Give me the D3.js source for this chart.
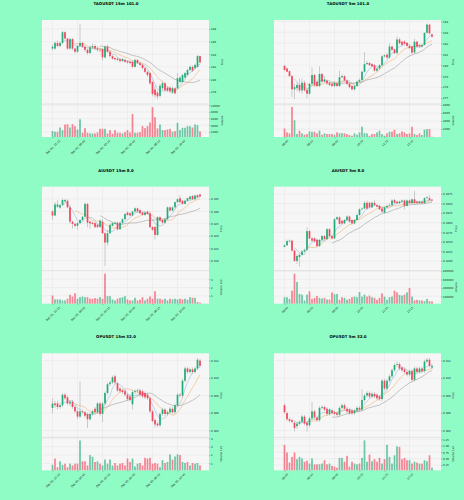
<!DOCTYPE html>
<html>
<head>
<meta charset="utf-8">
<script src="https://cdn.jsdelivr.net/npm/d3@7"></script>
<style>
  html, body { margin: 0; padding: 0; background: #8ffcc6; }
  svg { display: block; font-family: "DejaVu Sans", sans-serif; }
</style>
</head>
<body>
<svg id="fig" width="464" height="500"></svg>
<script>
// candle index of each x tick, and the labels
var tickIndex = [0, 10, 20, 30, 40, 50];
var ticks15m = ["Dec 01, 22:15", "Dec 02, 00:45", "Dec 02, 03:15", "Dec 02, 05:45", "Dec 02, 08:15", "Dec 02, 10:45"];
var ticks5m = ["08:05", "08:55", "09:45", "10:35", "11:25", "12:15"];

var titles = ["TAOUSDT 15m 101.0", "TAOUSDT 5m 101.0", "AIUSDT 15m 8.0", "AIUSDT 5m 8.0", "OPUSDT 15m 32.0", "OPUSDT 5m 32.0"];

// [open, high, low, close]
var tao15m = [
  [284.9,285.6,284.6,285.2],[284.9,286.0,284.7,285.8],[285.8,286.2,285.1,285.3],[285.3,286.0,285.1,285.8],
  [285.8,287.7,285.6,287.5],[287.5,287.6,286.3,286.5],[286.5,286.6,284.7,284.9],[284.9,286.6,284.7,286.4],
  [286.4,286.6,284.6,284.9],[284.9,285.0,284.1,284.4],[284.4,285.5,284.2,285.3],[285.3,288.8,285.1,285.8],
  [285.8,286.0,285.0,285.2],[285.2,285.4,284.4,284.7],[284.7,284.9,283.9,284.2],[284.2,285.4,284.0,285.1],
  [285.1,285.7,284.8,285.3],[285.3,285.6,284.7,284.9],[284.9,285.3,284.4,284.7],[284.7,284.9,284.3,284.6],
  [284.8,285.0,283.0,283.5],[283.5,285.4,283.3,285.2],[285.2,285.5,284.2,284.4],[284.4,284.6,283.5,283.7],
  [283.7,283.9,283.1,283.3],[283.4,283.6,283.0,283.2],[283.3,283.5,282.9,283.1],[283.2,283.4,282.7,282.9],
  [282.9,283.4,282.8,283.2],[283.1,283.3,282.6,282.8],[282.9,283.0,282.5,282.7],[282.8,283.0,282.4,282.6],
  [282.8,283.0,281.8,282.0],[282.0,283.3,281.9,283.1],[283.1,283.2,282.4,282.6],[282.6,282.8,282.1,282.3],
  [282.3,282.5,281.6,281.8],[281.8,282.0,281.0,281.2],[281.2,281.4,280.4,280.7],[281.0,281.2,279.1,279.4],
  [279.6,279.8,277.3,277.7],[278.4,279.0,277.0,277.5],[277.9,278.2,276.8,277.3],[277.4,279.3,277.1,279.0],
  [278.6,279.8,278.3,279.4],[279.4,279.6,278.0,278.3],[278.7,278.9,278.0,278.2],[278.7,278.9,277.8,278.1],
  [277.9,278.9,277.7,278.6],[278.6,278.8,277.6,277.8],[278.6,281.0,278.4,280.2],[279.6,280.5,279.4,280.3],
  [279.6,280.9,279.4,280.7],[280.3,281.2,280.1,281.0],[280.7,281.7,280.5,281.5],[281.5,282.2,281.3,282.0],
  [282.0,282.2,281.2,281.4],[281.8,282.5,281.6,282.3],[282.0,283.9,281.8,283.7],[283.7,283.8,282.5,282.7]
];
var tao15mVol = [2200,2000,2000,3300,2500,4200,4300,3300,4300,3700,2700,5800,1700,3100,1700,1500,1500,1500,1800,2900,
  2900,2900,1500,2500,1400,2500,1700,1700,1500,1900,2500,1800,7400,1700,1700,1900,3700,3100,3700,4800,
  9450,6400,3000,4200,2500,2500,2700,2900,2000,2200,4700,2500,3200,3200,3700,3700,3300,4200,4000,2100];

var tao5m = [
  [279.95,280.0,279.5,279.55],[279.7,279.8,279.35,279.4],[279.45,279.5,278.95,279.0],[279.0,279.1,277.1,277.8],
  [277.8,278.3,276.9,278.0],[277.9,278.4,277.6,278.2],[278.2,278.8,277.5,277.7],[277.7,278.8,277.4,278.4],
  [278.4,278.6,277.6,277.7],[277.75,277.9,277.0,277.4],[277.4,278.4,277.3,278.3],[278.3,279.8,278.2,279.1],
  [279.1,279.2,278.1,278.2],[278.5,278.7,278.0,278.1],[278.1,279.9,278.0,279.2],[279.2,279.3,278.4,278.5],
  [278.5,279.0,278.4,278.7],[278.6,278.7,278.2,278.35],[278.4,278.5,278.1,278.2],[278.3,278.4,278.0,278.1],
  [278.1,278.5,278.0,278.4],[278.35,278.5,278.0,278.1],[278.1,279.5,278.0,278.9],[278.9,279.2,278.8,279.0],
  [279.0,279.1,278.5,278.6],[278.6,278.7,278.2,278.3],[278.3,278.4,277.9,278.0],[278.1,278.2,277.7,277.8],
  [277.8,278.2,277.7,278.1],[278.1,278.6,278.0,278.5],[278.5,278.8,278.4,278.65],[278.65,279.5,278.6,279.4],
  [279.4,281.2,279.3,280.1],[280.1,280.4,280.0,280.2],[280.2,280.3,279.9,280.0],[280.1,280.2,279.8,279.9],
  [280.0,280.1,279.4,279.5],[279.5,279.8,279.4,279.7],[279.7,280.1,279.6,280.0],[280.0,280.9,279.9,280.8],
  [280.8,281.0,280.7,280.9],[280.95,281.1,280.6,280.7],[280.7,282.0,280.6,281.7],[281.7,281.8,281.3,281.4],
  [281.45,281.5,281.0,281.1],[281.1,282.6,281.0,282.35],[282.35,282.5,281.9,282.0],[282.15,282.2,281.8,281.85],
  [282.15,282.3,281.9,281.95],[282.05,282.1,281.7,281.75],[281.75,281.9,281.5,281.55],[281.7,281.8,281.0,281.15],
  [281.15,282.4,281.1,282.15],[282.15,282.2,281.6,281.7],[281.85,281.9,281.6,281.7],[281.7,281.9,281.6,281.85],
  [281.85,283.0,281.8,282.95],[282.95,283.8,282.9,283.7],[283.7,283.75,282.8,282.9],[282.8,282.9,282.5,282.6]
];
var tao5mVol = [2150,1180,930,7500,4200,770,1600,930,600,770,1420,1340,1340,930,1600,600,930,770,770,770,
  600,1180,930,1000,930,770,520,350,930,600,1180,2580,1000,930,350,770,770,1180,1600,770,
  350,930,1340,1340,1840,770,930,1420,1180,770,930,2580,770,520,930,520,1840,2000,2000,100];

var ai15m = [
  [0.3299,0.3305,0.3265,0.3283],[0.3283,0.3338,0.3280,0.3328],[0.3318,0.3345,0.3315,0.3328],[0.3315,0.3330,0.3310,0.3325],
  [0.3326,0.3352,0.3322,0.3346],[0.3340,0.3350,0.3336,0.3346],[0.3343,0.3348,0.3312,0.3316],[0.3316,0.3325,0.3250,0.3258],
  [0.3258,0.3262,0.3230,0.3249],[0.3249,0.3255,0.3235,0.3241],[0.3241,0.3256,0.3225,0.3252],[0.3252,0.3268,0.3248,0.3265],
  [0.3265,0.3280,0.3260,0.3278],[0.3278,0.3335,0.3275,0.3330],[0.3330,0.3334,0.3235,0.3254],[0.3258,0.3262,0.3230,0.3251],
  [0.3254,0.3258,0.3245,0.3249],[0.3252,0.3256,0.3232,0.3236],[0.3245,0.3250,0.3232,0.3236],[0.3236,0.3268,0.3234,0.3262],
  [0.3258,0.3270,0.3208,0.3211],[0.3211,0.3215,0.3078,0.3173],[0.3173,0.3225,0.3160,0.3211],[0.3211,0.3250,0.3208,0.3245],
  [0.3241,0.3256,0.3238,0.3252],[0.3249,0.3258,0.3245,0.3254],[0.3254,0.3258,0.3222,0.3227],[0.3227,0.3258,0.3224,0.3254],
  [0.3254,0.3272,0.3250,0.3268],[0.3268,0.3295,0.3265,0.3289],[0.3295,0.3299,0.3282,0.3285],[0.3292,0.3296,0.3280,0.3283],
  [0.3283,0.3302,0.3280,0.3299],[0.3299,0.3316,0.3296,0.3312],[0.3312,0.3315,0.3296,0.3299],[0.3305,0.3308,0.3289,0.3292],
  [0.3295,0.3299,0.3282,0.3285],[0.3285,0.3299,0.3282,0.3295],[0.3299,0.3302,0.3286,0.3289],[0.3292,0.3300,0.3232,0.3236],
  [0.3236,0.3240,0.3220,0.3225],[0.3236,0.3240,0.3185,0.3204],[0.3204,0.3280,0.3200,0.3276],[0.3276,0.3280,0.3258,0.3262],
  [0.3265,0.3268,0.3250,0.3254],[0.3254,0.3272,0.3250,0.3268],[0.3268,0.3320,0.3265,0.3316],[0.3316,0.3320,0.3300,0.3303],
  [0.3303,0.3320,0.3300,0.3316],[0.3316,0.3340,0.3312,0.3337],[0.3337,0.3352,0.3334,0.3349],[0.3353,0.3365,0.3334,0.3337],
  [0.3343,0.3346,0.3327,0.3330],[0.3330,0.3346,0.3327,0.3343],[0.3343,0.3356,0.3340,0.3353],[0.3349,0.3363,0.3346,0.3360],
  [0.3362,0.3366,0.3346,0.3349],[0.3349,0.3368,0.3346,0.3364],[0.3365,0.3370,0.3354,0.3357],[0.3368,0.3372,0.3358,0.3360]
];
// millions
var ai15mVol = [1.04,0.57,0.57,0.57,0.45,0.45,0.65,1.12,0.92,1.31,0.65,0.84,0.92,0.84,0.84,0.65,0.65,0.73,0.65,0.84,
  0.65,3.67,0.96,0.96,0.57,0.45,0.65,0.76,0.84,0.96,0.57,0.45,0.45,0.76,0.45,0.53,0.84,0.45,0.65,0.92,
  0.65,1.55,0.65,0.65,0.53,0.65,0.45,0.65,0.57,0.65,0.57,0.65,0.57,0.65,0.53,0.84,0.76,0.76,0.25,0.18];

var ai5m = [
  [0.3237,0.3243,0.3235,0.3241],[0.3241,0.3256,0.3239,0.3252],[0.3251,0.3256,0.3248,0.3253],[0.3253,0.3256,0.3225,0.3227],
  [0.3227,0.3230,0.3198,0.3200],[0.3200,0.3218,0.3192,0.3213],[0.3210,0.3220,0.3185,0.3216],[0.3216,0.3228,0.3214,0.3225],
  [0.3225,0.3232,0.3222,0.3229],[0.3229,0.3288,0.3226,0.3278],[0.3278,0.3281,0.3257,0.3259],[0.3259,0.3262,0.3250,0.3253],
  [0.3259,0.3262,0.3248,0.3251],[0.3255,0.3258,0.3236,0.3239],[0.3239,0.3258,0.3236,0.3255],[0.3255,0.3268,0.3253,0.3265],
  [0.3265,0.3268,0.3254,0.3257],[0.3257,0.3286,0.3255,0.3283],[0.3283,0.3286,0.3262,0.3265],[0.3265,0.3268,0.3256,0.3259],
  [0.3259,0.3312,0.3257,0.3309],[0.3309,0.3317,0.3306,0.3314],[0.3314,0.3317,0.3294,0.3297],[0.3305,0.3308,0.3295,0.3298],
  [0.3298,0.3310,0.3296,0.3307],[0.3307,0.3319,0.3305,0.3316],[0.3316,0.3319,0.3300,0.3303],[0.3307,0.3310,0.3295,0.3298],
  [0.3298,0.3310,0.3296,0.3307],[0.3307,0.3323,0.3305,0.3320],[0.3320,0.3338,0.3318,0.3335],[0.3335,0.3340,0.3332,0.3337],
  [0.3337,0.3356,0.3335,0.3352],[0.3352,0.3358,0.3334,0.3337],[0.3352,0.3355,0.3337,0.3340],[0.3340,0.3355,0.3338,0.3352],
  [0.3352,0.3360,0.3344,0.3346],[0.3346,0.3349,0.3340,0.3342],[0.3344,0.3347,0.3333,0.3335],[0.3337,0.3340,0.3326,0.3329],
  [0.3326,0.3343,0.3324,0.3340],[0.3340,0.3347,0.3338,0.3344],[0.3344,0.3350,0.3342,0.3346],[0.3346,0.3362,0.3344,0.3358],
  [0.3359,0.3363,0.3350,0.3352],[0.3355,0.3358,0.3349,0.3351],[0.3351,0.3358,0.3349,0.3355],[0.3355,0.3361,0.3353,0.3358],
  [0.3358,0.3361,0.3335,0.3344],[0.3344,0.3361,0.3342,0.3358],[0.3358,0.3361,0.3349,0.3351],[0.3351,0.3364,0.3349,0.3361],
  [0.3361,0.3383,0.3349,0.3351],[0.3355,0.3358,0.3349,0.3351],[0.3351,0.3358,0.3349,0.3355],[0.3355,0.3358,0.3349,0.3351],
  [0.3351,0.3367,0.3349,0.3364],[0.3364,0.3370,0.3362,0.3366],[0.3364,0.3372,0.3357,0.3359],[0.3360,0.3362,0.3356,0.3358]
];
var ai5mVol = [177000,177000,138000,332000,737000,542000,254000,239000,99000,239000,
  317000,138000,161000,208000,161000,146000,161000,122000,122000,293000,
  247000,254000,114000,177000,161000,114000,138000,177000,192000,177000,
  301000,192000,239000,192000,215000,177000,161000,114000,161000,270000,
  192000,114000,177000,192000,332000,293000,231000,215000,239000,293000,
  395000,192000,99000,114000,99000,99000,83000,138000,83000,75000];

var op15m = [
  [0.3066,0.3077,0.3060,0.3071],[0.3071,0.3074,0.3066,0.3069],[0.3071,0.3074,0.3064,0.3067],[0.3067,0.3072,0.3065,0.3069],
  [0.3069,0.3083,0.3067,0.3081],[0.3081,0.3083,0.3075,0.3077],[0.3078,0.3080,0.3069,0.3071],[0.3071,0.3075,0.3068,0.3073],
  [0.3073,0.3075,0.3065,0.3067],[0.3067,0.3069,0.3060,0.3062],[0.3062,0.3064,0.3053,0.3056],[0.3056,0.3096,0.3054,0.3062],
  [0.3062,0.3064,0.3059,0.3061],[0.3061,0.3063,0.3055,0.3057],[0.3059,0.3061,0.3043,0.3053],[0.3053,0.3061,0.3051,0.3059],
  [0.3059,0.3064,0.3057,0.3062],[0.3065,0.3067,0.3059,0.3061],[0.3061,0.3073,0.3059,0.3071],[0.3071,0.3073,0.3057,0.3059],
  [0.3059,0.3073,0.3050,0.3071],[0.3071,0.3085,0.3069,0.3083],[0.3083,0.3095,0.3081,0.3093],[0.3093,0.3097,0.3091,0.3095],
  [0.3095,0.3103,0.3093,0.3101],[0.3102,0.3104,0.3093,0.3095],[0.3094,0.3096,0.3084,0.3086],[0.3088,0.3090,0.3083,0.3085],
  [0.3086,0.3088,0.3082,0.3084],[0.3085,0.3087,0.3079,0.3081],[0.3081,0.3083,0.3074,0.3076],[0.3079,0.3081,0.3073,0.3075],
  [0.3070,0.3086,0.3064,0.3084],[0.3084,0.3087,0.3082,0.3085],[0.3085,0.3088,0.3083,0.3086],[0.3086,0.3088,0.3079,0.3081],
  [0.3085,0.3087,0.3077,0.3079],[0.3083,0.3085,0.3076,0.3078],[0.3081,0.3083,0.3075,0.3077],[0.3077,0.3079,0.3060,0.3062],
  [0.3062,0.3064,0.3049,0.3051],[0.3052,0.3054,0.3043,0.3047],[0.3048,0.3050,0.3044,0.3046],[0.3046,0.3061,0.3044,0.3059],
  [0.3059,0.3066,0.3057,0.3064],[0.3064,0.3066,0.3057,0.3059],[0.3059,0.3063,0.3057,0.3061],[0.3061,0.3067,0.3059,0.3065],
  [0.3065,0.3067,0.3059,0.3061],[0.3061,0.3071,0.3059,0.3069],[0.3069,0.3083,0.3067,0.3081],[0.3081,0.3083,0.3078,0.3080],
  [0.3080,0.3099,0.3078,0.3097],[0.3097,0.3113,0.3095,0.3111],[0.3111,0.3113,0.3105,0.3107],[0.3107,0.3112,0.3105,0.3110],
  [0.3110,0.3112,0.3105,0.3107],[0.3107,0.3113,0.3105,0.3111],[0.3111,0.3123,0.3109,0.3121],[0.3120,0.3122,0.3112,0.3114]
];
// units of 1e5
var op15mVol = [0.83,1.58,0.54,1.25,0.83,0.96,0.54,0.96,0.75,0.96,0.96,3.75,1.25,1.25,0.75,2.0,1.79,1.17,1.25,0.96,
  0.75,1.46,0.96,1.46,0.75,1.04,0.75,0.96,1.04,0.75,1.58,1.17,1.58,0.63,0.96,1.04,0.75,1.67,1.58,1.67,
  0.96,1.04,0.96,0.54,1.38,1.04,1.17,2.08,1.46,1.83,2.08,2.0,1.17,1.04,1.17,0.75,1.04,0.96,1.04,0.75];

var op5m = [
  [0.3069,0.3071,0.3059,0.3061],[0.3060,0.3062,0.3051,0.3053],[0.3053,0.3055,0.3049,0.3051],[0.3052,0.3054,0.3048,0.3050],
  [0.3049,0.3051,0.3039,0.3043],[0.3045,0.3050,0.3042,0.3048],[0.3048,0.3052,0.3046,0.3050],[0.3050,0.3058,0.3048,0.3056],
  [0.3056,0.3058,0.3046,0.3048],[0.3049,0.3051,0.3039,0.3046],[0.3046,0.3056,0.3044,0.3054],[0.3054,0.3073,0.3052,0.3062],
  [0.3062,0.3064,0.3053,0.3055],[0.3055,0.3057,0.3050,0.3052],[0.3052,0.3068,0.3050,0.3066],[0.3066,0.3069,0.3064,0.3067],
  [0.3067,0.3069,0.3062,0.3064],[0.3065,0.3067,0.3057,0.3059],[0.3059,0.3066,0.3057,0.3064],[0.3063,0.3065,0.3058,0.3060],
  [0.3061,0.3063,0.3057,0.3059],[0.3060,0.3062,0.3056,0.3058],[0.3058,0.3068,0.3056,0.3066],[0.3066,0.3071,0.3064,0.3069],
  [0.3069,0.3071,0.3063,0.3065],[0.3065,0.3067,0.3060,0.3062],[0.3064,0.3066,0.3058,0.3060],[0.3063,0.3065,0.3058,0.3060],
  [0.3060,0.3065,0.3058,0.3063],[0.3063,0.3068,0.3061,0.3066],[0.3066,0.3068,0.3062,0.3064],[0.3064,0.3087,0.3062,0.3075],
  [0.3075,0.3082,0.3073,0.3080],[0.3080,0.3085,0.3078,0.3083],[0.3083,0.3085,0.3077,0.3079],[0.3079,0.3084,0.3077,0.3082],
  [0.3082,0.3084,0.3077,0.3079],[0.3081,0.3083,0.3075,0.3077],[0.3079,0.3081,0.3074,0.3076],[0.3076,0.3099,0.3074,0.3097],
  [0.3097,0.3099,0.3086,0.3088],[0.3088,0.3099,0.3086,0.3097],[0.3097,0.3104,0.3095,0.3102],[0.3102,0.3111,0.3100,0.3109],
  [0.3109,0.3117,0.3107,0.3115],[0.3115,0.3119,0.3113,0.3116],[0.3116,0.3118,0.3109,0.3111],[0.3112,0.3114,0.3107,0.3109],
  [0.3110,0.3112,0.3105,0.3107],[0.3107,0.3109,0.3102,0.3104],[0.3104,0.3110,0.3102,0.3108],[0.3108,0.3110,0.3096,0.3098],
  [0.3098,0.3113,0.3096,0.3111],[0.3111,0.3113,0.3105,0.3107],[0.3107,0.3113,0.3105,0.3111],[0.3111,0.3113,0.3106,0.3108],
  [0.3108,0.3121,0.3106,0.3119],[0.3119,0.3123,0.3117,0.3121],[0.3121,0.3123,0.3112,0.3114],[0.3112,0.3116,0.3110,0.3114]
];
// millions
var op5mVol = [1.04,0.74,0.35,0.57,0.74,0.48,0.57,0.51,0.38,0.42,0.31,0.51,0.28,0.28,0.28,0.31,0.44,0.28,0.31,0.22,
  0.19,0.15,0.53,0.53,0.38,0.61,0.19,0.38,0.31,0.28,0.31,0.53,1.21,0.38,0.66,0.40,0.48,0.38,0.53,0.31,
  0.48,1.04,0.57,0.31,0.63,0.98,0.96,0.48,0.53,0.44,0.44,0.31,0.38,0.35,0.31,0.31,0.44,0.40,0.63,0.15];

// axis limits and ticks
var priceLimits = [[276.10, 289.43], [276.46, 284.12], [0.30592, 0.33999], [0.31746, 0.33941], [0.30323, 0.31283], [0.30323, 0.31283]];
var priceTicks = [
  [278, 280, 282, 284, 286, 288],
  [277, 278, 279, 280, 281, 282, 283, 284],
  [0.310, 0.315, 0.320, 0.325, 0.330, 0.335],
  [0.3200, 0.3225, 0.3250, 0.3275, 0.3300, 0.3325, 0.3350, 0.3375],
  [0.304, 0.306, 0.308, 0.310, 0.312],
  [0.304, 0.306, 0.308, 0.310, 0.312]
];
var volTicks = [
  [2000, 4000, 6000, 8000, 10000],
  [2000, 4000, 6000, 8000],
  [1, 2, 3],
  [200000, 400000, 600000, 800000],
  [1, 2, 3, 4],
  [0.25, 0.50, 0.75, 1.00, 1.25]
];
var volLabels = ["Volume", "Volume", "Volume  1e6", "Volume", "Volume  1e5", "Volume  1e6"];
var maPeriods = [5, 10, 20];

var charts = [
  { ohlc: tao15m, vol: tao15mVol, xlab: ticks15m, pfmt: d3.format("d"), vfmt: d3.format("d") },
  { ohlc: tao5m, vol: tao5mVol, xlab: ticks5m, pfmt: d3.format("d"), vfmt: d3.format("d") },
  { ohlc: ai15m, vol: ai15mVol, xlab: ticks15m, pfmt: d3.format(".3f"), vfmt: d3.format("d") },
  { ohlc: ai5m, vol: ai5mVol, xlab: ticks5m, pfmt: d3.format(".4f"), vfmt: d3.format("d") },
  { ohlc: op15m, vol: op15mVol, xlab: ticks15m, pfmt: d3.format(".3f"), vfmt: d3.format("d") },
  { ohlc: op5m, vol: op5mVol, xlab: ticks5m, pfmt: d3.format(".3f"), vfmt: d3.format(".2f") }
];

var W = 232, H = 500 / 3;
var L = 42, R = 209, T = 20, M = 104, B = 137;
var upColor = "#22ad78", downColor = "#f4475c";
var maColors = ["#88aed6", "#f3a456", "#8e8e8e"];
var fs = 2.7;

var svg = d3.select("#fig");
svg.append("rect").attr("width", 464).attr("height", 500).attr("fill", "#8ffcc6");

charts.forEach(function(ch, k) {
  var g = svg.append("g")
      .attr("transform", "translate(" + (k % 2) * W + "," + Math.floor(k / 2) * H + ")");
  var n = ch.ohlc.length;
  var x = d3.scaleLinear().domain([-4.2, n + 2.6]).range([L, R]);
  var y = d3.scaleLinear().domain(priceLimits[k]).range([M, T]);
  var yv = d3.scaleLinear().domain([0.3 * d3.min(ch.vol), 1.1 * d3.max(ch.vol)]).range([B, M]);
  var bw = 1.7;
  var col = function(d) { return d[3] >= d[0] ? upColor : downColor; };

  g.append("text")
      .attr("x", W / 2).attr("y", 4.9)
      .attr("text-anchor", "middle")
      .attr("font-size", 3.9).attr("font-weight", "bold")
      .text(titles[k]);

  g.append("rect").attr("x", L).attr("y", T).attr("width", R - L).attr("height", B - T)
      .attr("fill", "#f6f6f6");

  // grid
  var grid = g.append("g").attr("stroke", "#dedede").attr("stroke-width", 0.35);
  grid.selectAll(".gx").data(tickIndex).enter().append("line")
      .attr("x1", function(d) { return x(d); }).attr("x2", function(d) { return x(d); })
      .attr("y1", T).attr("y2", B);
  grid.selectAll(".gy").data(priceTicks[k]).enter().append("line")
      .attr("x1", L).attr("x2", R)
      .attr("y1", function(d) { return y(d); }).attr("y2", function(d) { return y(d); });
  grid.selectAll(".gv").data(volTicks[k]).enter().append("line")
      .attr("x1", L).attr("x2", R)
      .attr("y1", function(d) { return yv(d); }).attr("y2", function(d) { return yv(d); });

  g.append("line").attr("x1", L).attr("x2", R).attr("y1", M).attr("y2", M)
      .attr("stroke", "#c8c8c8").attr("stroke-width", 0.4);

  // volume
  g.append("g").selectAll("rect").data(ch.vol).enter().append("rect")
      .attr("x", function(d, i) { return x(i) - bw / 2; })
      .attr("width", bw)
      .attr("y", function(d) { return yv(d); })
      .attr("height", function(d) { return B - yv(d); })
      .attr("fill", function(d, i) { return col(ch.ohlc[i]); })
      .attr("opacity", 0.65);

  // moving averages
  var closes = ch.ohlc.map(function(d) { return d[3]; });
  maPeriods.forEach(function(p, j) {
    var pts = [];
    for (var i = p - 1; i < n; i++) pts.push([i, d3.mean(closes.slice(i - p + 1, i + 1))]);
    g.append("path").datum(pts)
        .attr("fill", "none").attr("stroke", maColors[j]).attr("stroke-width", 0.5)
        .attr("d", d3.line().x(function(d) { return x(d[0]); }).y(function(d) { return y(d[1]); }));
  });

  // candles
  var cg = g.append("g");
  cg.selectAll("line").data(ch.ohlc).enter().append("line")
      .attr("x1", function(d, i) { return x(i); }).attr("x2", function(d, i) { return x(i); })
      .attr("y1", function(d) { return y(d[1]); }).attr("y2", function(d) { return y(d[2]); })
      .attr("stroke", "#8a8a8a").attr("stroke-width", 0.4);
  cg.selectAll("rect").data(ch.ohlc).enter().append("rect")
      .attr("x", function(d, i) { return x(i) - bw / 2; })
      .attr("width", bw)
      .attr("y", function(d) { return y(Math.max(d[0], d[3])); })
      .attr("height", function(d) { return Math.max(0.3, Math.abs(y(d[0]) - y(d[3]))); })
      .attr("fill", col);

  // axes
  var styleAxis = function(a) {
    a.select(".domain").remove();
    a.selectAll(".tick line").attr("stroke", "#444").attr("stroke-width", 0.3);
    a.selectAll(".tick text").attr("font-size", fs).attr("fill", "#222").attr("font-family", "DejaVu Sans");
  };

  var pa = g.append("g").attr("transform", "translate(" + R + ",0)")
      .call(d3.axisRight(y).tickValues(priceTicks[k]).tickFormat(ch.pfmt).tickSize(1.3).tickPadding(0.8));
  styleAxis(pa);
  var va = g.append("g").attr("transform", "translate(" + R + ",0)")
      .call(d3.axisRight(yv).tickValues(volTicks[k]).tickFormat(ch.vfmt).tickSize(1.3).tickPadding(0.8));
  styleAxis(va);

  var xa = g.append("g").attr("transform", "translate(0," + B + ")")
      .call(d3.axisBottom(x).tickValues(tickIndex).tickFormat(function(d, i) { return ch.xlab[i]; }).tickSize(1.3));
  styleAxis(xa);
  xa.selectAll(".tick text")
      .attr("y", 0).attr("dy", "0.35em").attr("text-anchor", "middle")
      .attr("transform", function() {
        var w = this.getComputedTextLength();
        return "translate(0," + (2.4 + w / 2 * 0.707 + 1) + ") rotate(-45)";
      });

  var pw = pa.node().getBBox(), vw = va.node().getBBox();
  var lx = R + Math.max(pw.x + pw.width, vw.x + vw.width) + 1.2;
  g.append("text")
      .attr("transform", "translate(" + (lx + 2.1) + "," + (T + M) / 2 + ") rotate(-90)")
      .attr("text-anchor", "middle").attr("font-size", fs).attr("fill", "#222")
      .text("Price");
  g.append("text")
      .attr("transform", "translate(" + (lx + 2.1) + "," + (M + B) / 2 + ") rotate(-90)")
      .attr("text-anchor", "middle").attr("font-size", fs).attr("fill", "#222")
      .text(volLabels[k]);
});
</script>
</body>
</html>
